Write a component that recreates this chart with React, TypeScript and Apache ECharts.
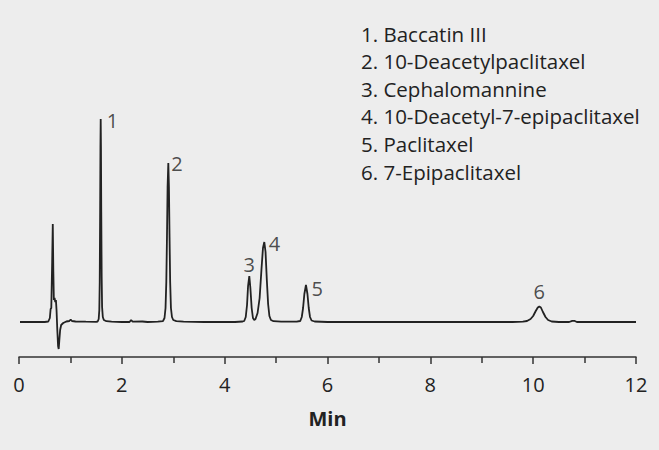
import React, { useEffect, useRef } from "react";
import * as echarts from "echarts";

// Chromatogram trace: [time (min), detector response (arbitrary units above baseline)]
const traceTimes: number[] = [
  0.02, 0.5, 0.57, 0.6, 0.615, 0.628, 0.645, 0.657, 0.668, 0.678, 0.692, 0.705, 0.718, 0.73, 0.745, 0.76, 0.772, 0.785, 0.8, 0.82, 0.86, 0.92, 0.98, 1.005, 1.03, 1.1, 1.3, 1.5,
  1.53, 1.55, 1.562, 1.57, 1.578, 1.584, 1.589, 1.594, 1.6, 1.608, 1.616, 1.63, 1.65, 1.7, 1.8, 2.0, 2.15, 2.18, 2.21, 2.4, 2.5, 2.7,
  2.8, 2.83, 2.85, 2.865, 2.878, 2.89, 2.904, 2.916, 2.928, 2.94, 2.955, 2.975, 3.0, 3.06, 3.2, 3.6, 4.2, 4.35,
  4.38, 4.41, 4.435, 4.455, 4.479, 4.5, 4.525, 4.55, 4.575,
  4.6, 4.64, 4.68, 4.715, 4.745, 4.771, 4.795, 4.82, 4.845, 4.87, 4.9, 4.95, 5.1, 5.4,
  5.47, 5.5, 5.525, 5.55, 5.581, 5.61, 5.635, 5.66, 5.69, 5.75, 6.0, 7.0, 8.0, 9.0, 9.6,
  9.8, 9.88, 9.95, 10.0, 10.05, 10.09, 10.12, 10.15, 10.19, 10.24, 10.29, 10.36, 10.5, 10.7, 10.76, 10.8, 10.85, 11.5, 12.0,
];
const traceValues: number[] = [
  0, 0, 0.5, 4, 13, 14, 60, 98, 50, 22, 24, 20, 22, 12, -8, -24, -27, -18, -8, -3, -1, 0.5, 1, 2.5, 1, 0.5, 0.3, 0.2,
  0.5, 3, 12, 40, 110, 175, 203, 175, 110, 45, 15, 5, 2, 0.8, 0.3, 0, 0, 2, 0.3, 0.5, 0, 0.3,
  0.8, 4, 14, 40, 85, 135, 159, 135, 85, 40, 14, 5, 2, 0.8, 0.3, 0, 0, 0.5,
  1, 5, 17, 36, 46, 34, 14, 4, 2,
  3, 9, 24, 52, 74, 80, 70, 42, 18, 6, 2, 0.8, 0.3, 0.3,
  1, 5, 14, 28, 37, 28, 14, 5, 1.5, 0.5, 0, 0, 0, 0, 0,
  0.3, 1, 3, 6, 11, 14.5, 15.5, 14.5, 10, 5, 2, 0.5, 0, 0, 1.2, 1.2, 0, 0, 0,
];

// Peak annotations
const peakLabels: string[] = ["1", "2", "3", "4", "5", "6"];
const peakTimes: number[] = [1.589, 2.904, 4.479, 4.771, 5.581, 10.12];
const peakHeights: number[] = [203, 159, 46, 80, 37, 15.5];

// Compound legend
const compoundNames: string[] = [
  "1. Baccatin III",
  "2. 10-Deacetylpaclitaxel",
  "3. Cephalomannine",
  "4. 10-Deacetyl-7-epipaclitaxel",
  "5. Paclitaxel",
  "6. 7-Epipaclitaxel",
];

const xAxisTitle = "Min";
const FONT = "'Open Sans', 'Noto Sans', sans-serif";

export default function App() {
  const ref = useRef<HTMLDivElement>(null);

  useEffect(() => {
    document.body.style.margin = "0";
    const el = ref.current;
    if (!el) return;
    const chart = echarts.init(el, undefined, { renderer: "svg" });

    // label placement style per peak label (position, distance, vertical nudge)
    const labelStyle: { position: string; distance: number; dy: number }[] = [
      { position: "right", distance: 6, dy: 1 },
      { position: "right", distance: 3, dy: 0 },
      { position: "top", distance: 2, dy: 0 },
      { position: "right", distance: 4.5, dy: 1 },
      { position: "right", distance: 5.5, dy: 3.5 },
      { position: "top", distance: 5, dy: 0 },
    ];

    const trace = traceTimes.map((t, i) => [t, traceValues[i]]);
    const peaks = peakTimes.map((t, i) => ({
      value: [t, peakHeights[i]],
      label: {
        show: true,
        formatter: peakLabels[i],
        position: labelStyle[i].position,
        distance: labelStyle[i].distance,
        offset: [0, labelStyle[i].dy],
        color: "#222",
        fontSize: 20,
        fontFamily: FONT,
      },
    }));

    chart.setOption({
      animation: false,
      backgroundColor: "#ededed",
      grid: { left: 19, right: 23, top: 22, bottom: 93 },
      xAxis: {
        type: "value",
        min: 0,
        max: 12,
        interval: 2,
        name: xAxisTitle,
        nameLocation: "middle",
        nameGap: 51,
        nameTextStyle: { color: "#222", fontSize: 20, fontWeight: "bold", fontFamily: FONT },
        axisLine: { show: true, onZero: false, lineStyle: { color: "#333", width: 1.5 } },
        axisTick: { show: true, length: 7, lineStyle: { color: "#333", width: 1.5 } },
        minorTick: { show: true, splitNumber: 2, length: 6, lineStyle: { color: "#333", width: 1.5 } },
        axisLabel: { color: "#222", fontSize: 20, fontFamily: FONT, margin: 17 },
        splitLine: { show: false },
      },
      yAxis: {
        type: "value",
        min: -35,
        max: 300,
        show: false,
      },
      series: [
        {
          type: "line",
          data: trace,
          showSymbol: false,
          symbol: "none",
          lineStyle: { color: "#222", width: 1.8 },
          z: 2,
        },
        {
          type: "scatter",
          data: peaks,
          symbolSize: 0,
          z: 3,
        },
      ],
      graphic: compoundNames.map((name, i) => ({
        type: "text",
        x: 361,
        y: 33.5 + i * 27.6,
        style: {
          text: name,
          fill: "#222",
          fontSize: 20.5,
          fontFamily: FONT,
          verticalAlign: "middle",
        },
      })),
    });

    return () => chart.dispose();
  }, []);

  return <div ref={ref} style={{ width: 659, height: 450 }} />;
}
